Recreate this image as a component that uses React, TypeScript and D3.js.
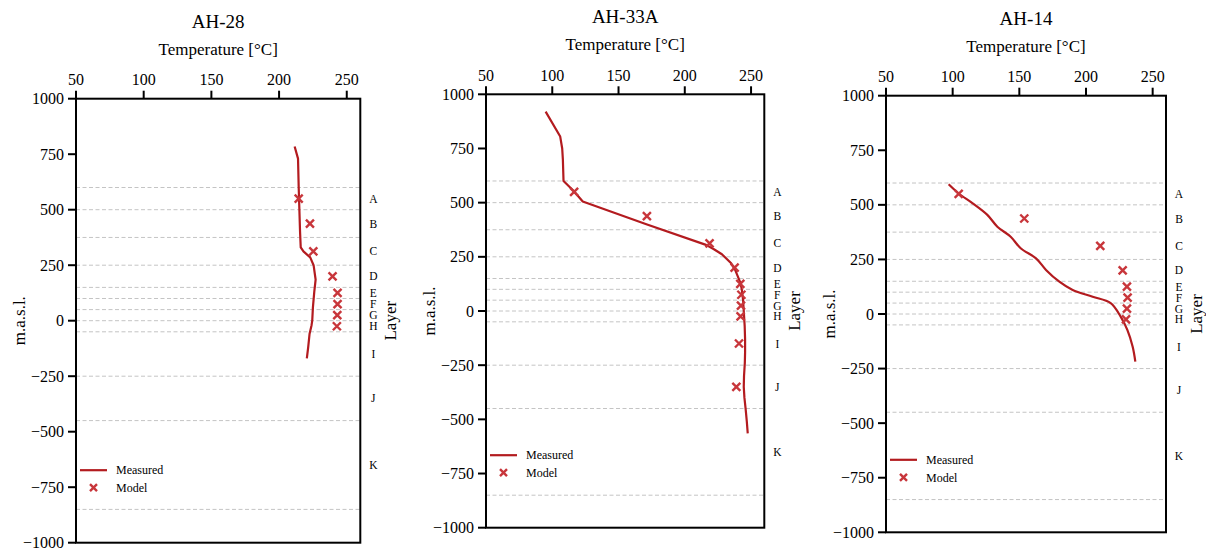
import React from "react";
import * as d3 from "d3";

// Layer boundaries (m.a.s.l.) and layer names
const layerBounds = [600, 500, 375, 250, 150, 100, 50, 0, -50, -250, -450, -850];
const layerNames = ["A", "B", "C", "D", "E", "F", "G", "H", "I", "J", "K"];

const xTicks = [50, 100, 150, 200, 250];
const yTicks = [1000, 750, 500, 250, 0, -250, -500, -750, -1000];

// Measured temperature profiles: [temperature °C, elevation m.a.s.l.]
const ah28Measured: [number, number][] = [
  [211.5, 785], [214, 730], [214.5, 600], [215, 500], [215.5, 400], [216, 330],
  [218, 312], [223, 285], [225.5, 250], [227, 185], [226, 130], [225, 60],
  [224.5, 0], [224, -20], [222.5, -60], [221.5, -120], [220.5, -170],
];
const ah33aMeasured: [number, number][] = [
  [95, 920], [106, 805], [107.5, 750], [108, 700], [108.5, 600], [116, 555],
  [123, 505], [171, 400], [216, 305], [222, 285], [228, 262], [235, 220],
  [238, 190], [240, 160], [242, 130], [243, 100], [244, 50], [244.5, 0],
  [245.2, -70], [245.5, -130], [245.5, -190], [245.3, -240], [244.7, -300],
  [244.5, -350], [245, -400], [246, -457], [246.8, -510], [247.5, -565],
];
const ah14Measured: [number, number][] = [
  [97, 594], [104.5, 552], [115, 507], [126, 454], [133.5, 400], [143.5, 354],
  [151, 301], [162.5, 255], [170, 202], [180, 148], [190, 110], [205, 79],
  [218.5, 50], [226, -12], [231, -73], [235, -150], [237, -218],
];

// Model temperatures, one per layer starting at A
const ah28Model = [214.5, 222.8, 225.3, 239.5, 243.2, 243.2, 243, 242.7];
const ah33aModel = [116.5, 171.4, 218.7, 237.6, 241.9, 242.7, 242.4, 242.1, 240.9, 238.9];
const ah14Model = [104.5, 153.7, 210.7, 227.5, 230.7, 231.2, 230.7, 230];

const LINE_COLOR = "#b31b1f";
const MARK_COLOR = "#c8363b";
const FONT = "'Liberation Serif', 'Times New Roman', serif";

type Panel = {
  title: string;
  measured: [number, number][];
  model: number[];
  smooth: boolean;
  box: { left: number; right: number; top: number; bottom: number };
};

const panels: Panel[] = [
  { title: "AH-28", measured: ah28Measured, model: ah28Model, smooth: false, box: { left: 76, right: 360.3, top: 98.7, bottom: 542.7 } },
  { title: "AH-33A", measured: ah33aMeasured, model: ah33aModel, smooth: false, box: { left: 486, right: 764.3, top: 94.3, bottom: 527.7 } },
  { title: "AH-14", measured: ah14Measured, model: ah14Model, smooth: true, box: { left: 886, right: 1166, top: 95.7, bottom: 532.3 } },
];

const layerMids = layerNames.map((_, i) => (layerBounds[i] + layerBounds[i + 1]) / 2);

const fmt = (v: number) => (v < 0 ? "\u2212" + Math.abs(v) : String(v));

function Cross({ x, y, s = 4 }: { x: number; y: number; s?: number }) {
  return (
    <path
      d={`M${x - s},${y - s}L${x + s},${y + s}M${x - s},${y + s}L${x + s},${y - s}`}
      stroke={MARK_COLOR}
      strokeWidth={2.4}
      fill="none"
    />
  );
}

function WellPanel({ p }: { p: Panel }) {
  const { left, right, top, bottom } = p.box;
  const x = d3.scaleLinear().domain([50, 260]).range([left, right]);
  const y = d3.scaleLinear().domain([-1000, 1000]).range([bottom, top]);
  const line = d3
    .line<[number, number]>()
    .x((d) => x(d[0]))
    .y((d) => y(d[1]))
    .curve(p.smooth ? d3.curveCatmullRom.alpha(0.5) : d3.curveLinear);
  const cx = (left + right) / 2;
  const cy = (top + bottom) / 2;

  return (
    <g fontFamily={FONT} fill="#000">
      <text x={cx} y={top - 71} textAnchor="middle" fontSize={19}>{p.title}</text>
      <text x={cx} y={top - 44} textAnchor="middle" fontSize={17}>Temperature [°C]</text>

      {/* layer boundaries */}
      {layerBounds.map((b) => (
        <line key={b} x1={left} x2={right} y1={y(b)} y2={y(b)} stroke="#c4c4c4" strokeWidth={1} strokeDasharray="4,2.5" />
      ))}

      {/* layer names */}
      {layerNames.map((n, i) => (
        <text key={n} x={right + 13} y={y(layerMids[i])} dy="0.35em" textAnchor="middle" fontSize={11.5}>{n}</text>
      ))}

      {/* measured profile */}
      <path d={line(p.measured) ?? ""} fill="none" stroke={LINE_COLOR} strokeWidth={2.2} strokeLinejoin="round" />

      {/* model values at layer centres */}
      {p.model.map((t, i) => (
        <Cross key={i} x={x(t)} y={y(layerMids[i])} />
      ))}

      {/* top axis */}
      {xTicks.map((t) => (
        <g key={t}>
          <line x1={x(t)} x2={x(t)} y1={top} y2={top - 8} stroke="#000" strokeWidth={2} />
          <text x={x(t)} y={top - 13.5} textAnchor="middle" fontSize={16}>{t}</text>
        </g>
      ))}

      {/* left axis */}
      {yTicks.map((t) => (
        <g key={t}>
          <line x1={left} x2={left - 8} y1={y(t)} y2={y(t)} stroke="#000" strokeWidth={2} />
          <text x={left - 12} y={y(t)} dy="0.35em" textAnchor="end" fontSize={16}>{fmt(t)}</text>
        </g>
      ))}

      <text transform={`translate(${left - 57},${cy}) rotate(-90)`} textAnchor="middle" dy="0.35em" fontSize={17}>m.a.s.l.</text>
      <text transform={`translate(${right + 30},${cy}) rotate(-90)`} textAnchor="middle" dy="0.35em" fontSize={17}>Layer</text>

      <rect x={left} y={top} width={right - left} height={bottom - top} fill="none" stroke="#000" strokeWidth={2} />

      {/* legend */}
      <line x1={left + 4} x2={left + 31} y1={bottom - 72.5} y2={bottom - 72.5} stroke={LINE_COLOR} strokeWidth={2.2} />
      <text x={left + 40} y={bottom - 72.5} dy="0.35em" fontSize={12}>Measured</text>
      <Cross x={left + 17.5} y={bottom - 55} s={3.5} />
      <text x={left + 40} y={bottom - 55} dy="0.35em" fontSize={12}>Model</text>
    </g>
  );
}

export default function App() {
  return (
    <svg width={1206} height={552} style={{ position: "absolute", left: 0, top: 0, background: "#fff" }}>
      {panels.map((p) => (
        <WellPanel key={p.title} p={p} />
      ))}
    </svg>
  );
}
